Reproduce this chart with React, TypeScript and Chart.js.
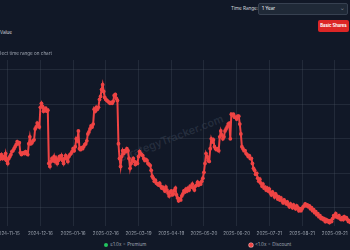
import React, { useEffect, useRef } from "react";
import { Chart, registerables } from "chart.js";

Chart.register(...registerables);

// ---- data ----
const startDate = "2024-10-15"; // day index 0
const tickDays = [31, 62, 93, 124, 155, 186, 217, 248, 279, 310, 341];
const tickLabels = [
  "2024-11-15", "2024-12-16", "2025-01-16", "2025-02-16", "2025-03-19",
  "2025-04-19", "2025-05-20", "2025-06-20", "2025-07-21", "2025-08-21", "2025-09-21",
];
const gridValues = [0.53, 0.6, 0.67, 0.74, 0.81];
const premiumThreshold = 1.0;
// daily mNAV, one value per day from startDate
const mnavValues = [
  // 0-26
  0.630, 0.634, 0.626, 0.620, 0.624, 0.630, 0.636, 0.640, 0.634, 0.630, 0.626, 0.632, 0.638, 0.642,
  0.636, 0.630, 0.624, 0.628, 0.634, 0.638, 0.632, 0.626, 0.622, 0.628, 0.634, 0.638, 0.630,
  // 27-69
  0.634, 0.630, 0.640, 0.626, 0.620, 0.630, 0.634, 0.638, 0.644, 0.646, 0.650, 0.654, 0.658, 0.664,
  0.660, 0.662, 0.642, 0.638, 0.640, 0.642, 0.640, 0.644, 0.640, 0.638, 0.660, 0.674, 0.660, 0.662,
  0.666, 0.668, 0.690, 0.694, 0.702, 0.698, 0.694, 0.734, 0.742, 0.736, 0.726, 0.730, 0.732, 0.726,
  0.728,
  // 70-92
  0.620, 0.614, 0.624, 0.630, 0.626, 0.634, 0.624, 0.630, 0.620, 0.626, 0.634, 0.630, 0.636, 0.626,
  0.620, 0.630, 0.636, 0.630, 0.624, 0.634, 0.638, 0.640, 0.644,
  // 93-136
  0.650, 0.646, 0.654, 0.670, 0.666, 0.686, 0.650, 0.648, 0.652, 0.650, 0.654, 0.658, 0.660, 0.666,
  0.680, 0.684, 0.690, 0.696, 0.694, 0.700, 0.730, 0.726, 0.734, 0.730, 0.734, 0.750, 0.756, 0.770,
  0.780, 0.766, 0.754, 0.750, 0.748, 0.746, 0.744, 0.742, 0.744, 0.742, 0.746, 0.758, 0.760, 0.752,
  0.748, 0.660,
  // 137-168
  0.630, 0.614, 0.634, 0.646, 0.640, 0.646, 0.644, 0.650, 0.646, 0.630, 0.610, 0.620, 0.626, 0.630,
  0.624, 0.618, 0.622, 0.620, 0.634, 0.644, 0.640, 0.638, 0.636, 0.630, 0.626, 0.628, 0.626, 0.620,
  0.618, 0.616, 0.606, 0.594,
  // 169-217
  0.590, 0.584, 0.586, 0.580, 0.578, 0.576, 0.580, 0.574, 0.570, 0.572, 0.568, 0.564, 0.572, 0.566,
  0.560, 0.554, 0.562, 0.564, 0.556, 0.558, 0.566, 0.570, 0.556, 0.550, 0.544, 0.548, 0.546, 0.554,
  0.558, 0.564, 0.562, 0.568, 0.564, 0.570, 0.566, 0.574, 0.572, 0.578, 0.570, 0.566, 0.574, 0.576,
  0.582, 0.576, 0.580, 0.578, 0.584, 0.590, 0.602,
  // 218-262
  0.620, 0.640, 0.634, 0.626, 0.624, 0.650, 0.670, 0.664, 0.668, 0.654, 0.650, 0.648, 0.650, 0.646,
  0.674, 0.686, 0.678, 0.670, 0.674, 0.686, 0.690, 0.694, 0.700, 0.702, 0.670, 0.720, 0.718, 0.720,
  0.714, 0.714, 0.710, 0.716, 0.716, 0.700, 0.680, 0.654, 0.650, 0.646, 0.646, 0.640, 0.638, 0.634,
  0.636, 0.630, 0.630,
  // 263-310
  0.620, 0.610, 0.606, 0.598, 0.600, 0.590, 0.584, 0.588, 0.580, 0.574, 0.578, 0.570, 0.572, 0.566,
  0.570, 0.564, 0.568, 0.560, 0.556, 0.562, 0.558, 0.552, 0.558, 0.554, 0.548, 0.552, 0.546, 0.550,
  0.544, 0.540, 0.546, 0.542, 0.538, 0.542, 0.536, 0.532, 0.538, 0.534, 0.530, 0.536, 0.532, 0.528,
  0.534, 0.530, 0.524, 0.528, 0.524, 0.528,
  // 311-364
  0.532, 0.534, 0.538, 0.534, 0.536, 0.532, 0.534, 0.528, 0.530, 0.524, 0.526, 0.520, 0.522, 0.516,
  0.518, 0.512, 0.514, 0.508, 0.510, 0.506, 0.508, 0.502, 0.506, 0.502, 0.504, 0.500, 0.504, 0.502,
  0.508, 0.514, 0.512, 0.518, 0.512, 0.510, 0.514, 0.508, 0.506, 0.510, 0.506, 0.512, 0.508, 0.510,
  0.506, 0.502, 0.504, 0.500, 0.502, 0.498, 0.500, 0.496, 0.498, 0.494, 0.496, 0.494,
];

// ---- styles ----
const BG = "#111827";
const RED = "#ef4444";
const GREEN = "#22c55e";
const GRID = "rgba(75, 85, 99, 0.3)";
const FONT = "Inter, 'Noto Sans', sans-serif";

const CANVAS_LEFT = -29;
const CANVAS_TOP = 56;
const CANVAS_W = 392;
const CANVAS_H = 184;

function MnavChart() {
  const ref = useRef<HTMLCanvasElement | null>(null);
  useEffect(() => {
    if (!ref.current) return;
    const chart = new Chart(ref.current, {
      type: "line",
      data: {
        datasets: [
          {
            label: "mNAV " + startDate,
            data: mnavValues.map((v, i) => ({ x: i, y: v })),
            borderColor: RED,
            borderWidth: 2,
            pointRadius: 1.9,
            pointBorderWidth: 0,
            pointBackgroundColor: (ctx: any) =>
              ctx.raw && ctx.raw.y >= premiumThreshold ? GREEN : RED,
            segment: {
              borderColor: (ctx: any) =>
                ctx.p1.parsed.y >= premiumThreshold ? GREEN : RED,
            },
            tension: 0,
            fill: false,
          },
        ],
      },
      options: {
        animation: false,
        responsive: false,
        maintainAspectRatio: false,
        layout: { padding: { top: 4, left: 0, right: 0, bottom: 0 } },
        plugins: { legend: { display: false }, tooltip: { enabled: false } },
        scales: {
          x: {
            type: "linear",
            min: 0,
            max: mnavValues.length - 1,
            afterBuildTicks: (s: any) => {
              s.ticks = tickDays.map((v) => ({ value: v }));
            },
            ticks: {
              autoSkip: false,
              maxRotation: 0,
              padding: 4,
              color: "#9ca3af",
              font: { size: 4.6, family: FONT },
              callback: (v: any) => tickLabels[tickDays.indexOf(Number(v))],
            },
            grid: { color: GRID, drawTicks: false },
            border: { display: false },
          },
          y: {
            min: 0.492,
            max: 0.83,
            afterBuildTicks: (s: any) => {
              s.ticks = gridValues.map((v) => ({ value: v }));
            },
            ticks: { display: false },
            grid: { color: GRID, drawTicks: false },
            border: { display: false },
          },
        },
      },
    });
    return () => chart.destroy();
  }, []);
  return (
    <canvas
      ref={ref}
      width={CANVAS_W}
      height={CANVAS_H}
      style={{ position: "absolute", left: CANVAS_LEFT, top: CANVAS_TOP, width: CANVAS_W, height: CANVAS_H }}
    />
  );
}

export default function App() {
  useEffect(() => {
    document.body.style.margin = "0";
    document.body.style.background = BG;
  }, []);
  const small = { fontFamily: FONT, fontSize: 4.6, lineHeight: 1 } as const;
  return (
    <div
      style={{
        position: "fixed",
        left: 0,
        top: 0,
        width: 350,
        height: 250,
        overflow: "hidden",
        background: BG,
        fontFamily: FONT,
      }}
    >
      {/* watermark */}
      <div
        style={{
          position: "absolute",
          left: 171,
          top: 138,
          transform: "translate(-50%, -50%) rotate(-21deg)",
          fontFamily: FONT,
          fontSize: 11,
          fontWeight: 600,
          color: "rgba(148, 163, 184, 0.16)",
          whiteSpace: "nowrap",
        }}
      >
        StrategyTracker.com
      </div>

      <MnavChart />

      {/* header texts (cut by the left edge) */}
      <div style={{ ...small, position: "absolute", left: -100, width: 112, top: 31, textAlign: "right", color: "#d1d5db", whiteSpace: "nowrap" }}>
        mNAV Value
      </div>
      <div style={{ ...small, position: "absolute", left: -148, width: 200, top: 52, textAlign: "right", color: "#9ca3af", whiteSpace: "nowrap" }}>
        Drag to select time range on chart
      </div>

      {/* time range */}
      <div style={{ ...small, position: "absolute", left: 231, top: 7, color: "#d1d5db", whiteSpace: "nowrap" }}>
        Time Range:
      </div>
      <div
        style={{
          position: "absolute",
          left: 258,
          top: 3,
          width: 90,
          height: 12,
          boxSizing: "border-box",
          background: "#1f2937",
          border: "1px solid #374151",
          borderRadius: 2,
        }}
      >
        <span style={{ ...small, position: "absolute", left: 3, top: 3, color: "#f3f4f6" }}>1 Year</span>
        <span style={{ ...small, position: "absolute", right: 3, top: 2.5, color: "#9ca3af" }}>⌄</span>
      </div>
      <div
        style={{
          position: "absolute",
          left: 318,
          top: 20,
          width: 31,
          height: 12,
          background: "#dc2626",
          borderRadius: 2,
          display: "flex",
          alignItems: "center",
          justifyContent: "center",
        }}
      >
        <span style={{ ...small, fontSize: 4.2, fontWeight: 700, color: "#ffffff", whiteSpace: "nowrap" }}>Basic Shares</span>
      </div>

      {/* legend */}
      <div style={{ position: "absolute", left: 104, top: 243, width: 4, height: 4, borderRadius: 2, background: GREEN }} />
      <div style={{ ...small, position: "absolute", left: 110, top: 243, color: "#9ca3af", whiteSpace: "nowrap" }}>
        ≥1.0x = Premium
      </div>
      <div style={{ position: "absolute", left: 249, top: 243, width: 4, height: 4, borderRadius: 2, background: RED, boxShadow: "0 0 0 0.6px #fca5a5" }} />
      <div style={{ ...small, position: "absolute", left: 255, top: 243, color: "#9ca3af", whiteSpace: "nowrap" }}>
        &lt;1.0x = Discount
      </div>
    </div>
  );
}
